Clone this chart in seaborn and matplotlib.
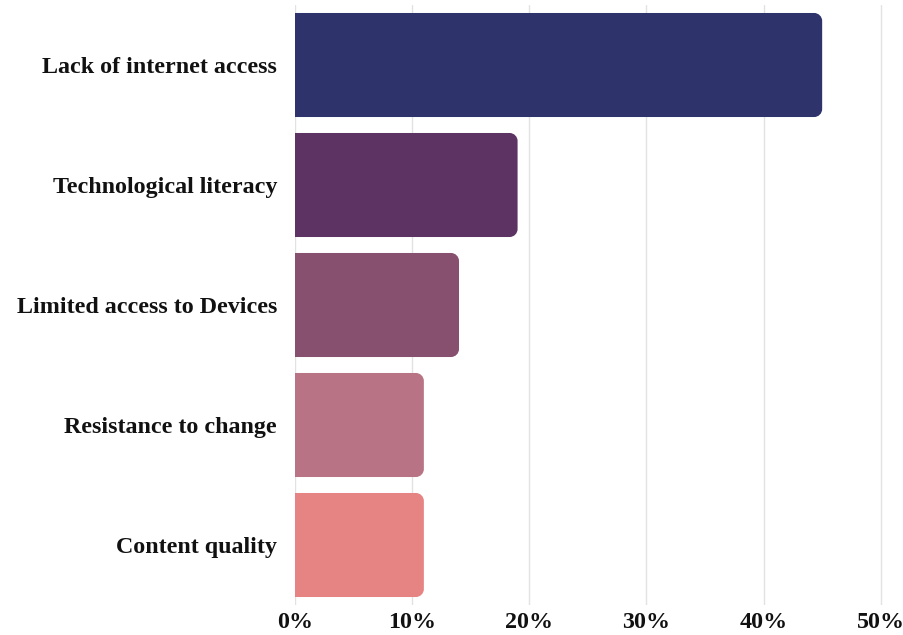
import matplotlib
matplotlib.use("Agg")
import matplotlib.pyplot as plt
from matplotlib.path import Path
from matplotlib.patches import PathPatch
import seaborn as sns
import pandas as pd

categories = ["Lack of internet access", "Technological literacy",
              "Limited access to Devices", "Resistance to change", "Content quality"]
values = [45, 19, 14, 11, 11]
colors = ["#2f336b", "#5d3363", "#88506f", "#b87384", "#e58482"]
x_ticks = [0, 10, 20, 30, 40, 50]
x_tick_labels = ["0%", "10%", "20%", "30%", "40%", "50%"]

sns.set_theme(style="white")
plt.rcParams["font.family"] = ["Liberation Serif", "DejaVu Serif"]

df = pd.DataFrame({"category": categories, "value": values})

fig = plt.figure(figsize=(9.04, 6.35), dpi=100)
ax = fig.add_axes([295 / 904, 1 - 605 / 635, 608 / 904, 600 / 635])

sns.barplot(data=df, x="value", y="category", hue="category", palette=colors,
            orient="h", width=0.867, legend=False, ax=ax, saturation=1)

ax.set_xlim(0, 51.9)
ax.set_ylim(4.5, -0.5)


def rounded_right(x0, y0, w, h, rx, ry):
    """Bar outline with square left corners and rounded right corners."""
    x1, y1 = x0 + w, y0 + h
    k = 0.5523
    verts = [
        (x0, y0), (x1 - rx, y0),
        (x1 - rx + k * rx, y0), (x1, y0 + ry - k * ry), (x1, y0 + ry),
        (x1, y1 - ry),
        (x1, y1 - ry + k * ry), (x1 - rx + k * rx, y1), (x1 - rx, y1),
        (x0, y1), (x0, y0),
    ]
    codes = [Path.MOVETO, Path.LINETO,
             Path.CURVE4, Path.CURVE4, Path.CURVE4,
             Path.LINETO,
             Path.CURVE4, Path.CURVE4, Path.CURVE4,
             Path.LINETO, Path.CLOSEPOLY]
    return Path(verts, codes)


px_per_x = 608 / 51.9
px_per_y = 600 / 5
radius_px = 8
for patch in list(ax.patches):
    x0, y0 = patch.get_x(), patch.get_y()
    w, h = patch.get_width(), patch.get_height()
    fc = patch.get_facecolor()
    patch.remove()
    ax.add_patch(PathPatch(rounded_right(x0, y0, w, h, radius_px / px_per_x, radius_px / px_per_y),
                           facecolor=fc, edgecolor="none", zorder=3))

ax.set_xticks(x_ticks)
ax.set_xticklabels(x_tick_labels)
ax.xaxis.grid(True, color="#e2e2e2", linewidth=1.0, zorder=0)
ax.yaxis.grid(False)
ax.set_axisbelow(True)
for s in ax.spines.values():
    s.set_visible(False)
ax.set_xlabel("")
ax.set_ylabel("")
ax.tick_params(axis="both", length=0)
ax.tick_params(axis="y", pad=13)
ax.tick_params(axis="x", pad=5)
for lbl in ax.get_yticklabels() + ax.get_xticklabels():
    lbl.set_fontweight("bold")
    lbl.set_fontsize(17.3)
    lbl.set_color("#111111")

fig.savefig("out.png", dpi=100, facecolor="white")
